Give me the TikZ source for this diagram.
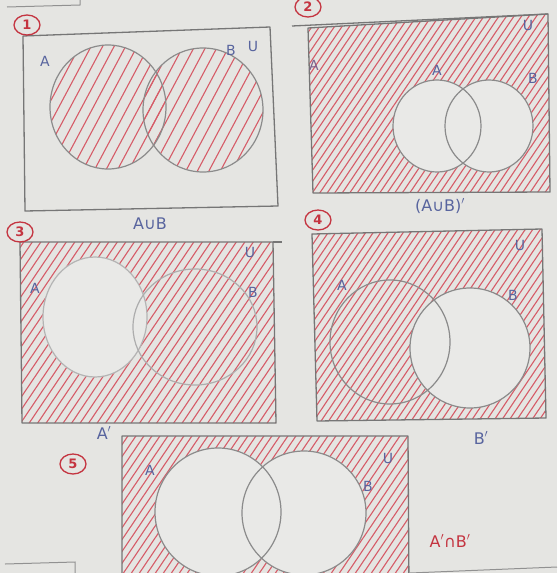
\documentclass[tikz,border=0pt]{standalone}
\usepackage{fontspec}
\setmainfont{DejaVu Sans}
\usetikzlibrary{shapes.geometric}
\definecolor{paper}{RGB}{229,229,226}
\definecolor{paperlight}{RGB}{233,233,231}
\definecolor{hred}{RGB}{214,92,104}
\definecolor{pencil}{RGB}{118,118,118}
\definecolor{ink}{RGB}{88,100,158}
\definecolor{rink}{RGB}{196,52,64}
\newcommand\hatchin[4]{%
  \foreach \k in {0,...,75} \draw[hatchline] ({#1+\k*#3},#2) -- ++(#4:440);}
\tikzset{
  frame/.style={draw=pencil, line width=1.3pt, line join=round},
  venn/.style={draw=pencil!85, line width=1.2pt},
  hatchline/.style={draw=hred, line width=1.1pt},
  lbl/.style={text=ink, font=\fontsize{14}{14}\selectfont, inner sep=0pt},
  captext/.style={text=ink, font=\fontsize{16}{16}\selectfont, inner sep=0pt},
  rcaptext/.style={text=rink, font=\fontsize{16}{16}\selectfont, inner sep=0pt},
  num/.style={ellipse, draw=rink, line width=1.3pt, text=rink, inner sep=0pt,
    minimum width=26pt, minimum height=20pt, font=\bfseries\fontsize{13}{13}\selectfont},
  stray/.style={draw=pencil!80, line width=1pt}
}
\begin{document}
\begin{tikzpicture}[x=1pt,y=-1pt]
\fill[paper] (0,0) rectangle (557,573);
\useasboundingbox (0,0) rectangle (557,573);

% stray fragments of the page
\coordinate (s1) at (7,7); \coordinate (s2) at (80,5); \coordinate (s3) at (80,0);
\draw[stray] (s1) -- (s2) -- (s3);
\coordinate (s4) at (5,564); \coordinate (s5) at (75,562); \coordinate (s6) at (75,573);
\draw[stray] (s4) -- (s5) -- (s6);
\coordinate (s7) at (410,573); \coordinate (s8) at (557,567);
\draw[stray] (s7) -- (s8);

% ---------------- Panel 1 : A u B
\coordinate (p1a) at (23,36); \coordinate (p1b) at (270,27);
\coordinate (p1c) at (278,206); \coordinate (p1d) at (25,211);
\begin{scope}
  \clip (108,107) ellipse [x radius=58, y radius=62];
  \hatchin{-110}{230}{11.5}{-62}
\end{scope}
\begin{scope}
  \clip (203,110) ellipse [x radius=60, y radius=62];
  \hatchin{-110}{230}{11.5}{-62}
\end{scope}
\draw[frame] (p1a) -- (p1b) -- (p1c) -- (p1d) -- cycle;
\draw[venn] (108,107) ellipse [x radius=58, y radius=62];
\draw[venn] (203,110) ellipse [x radius=60, y radius=62];
\node[num] (n1) at (27,25) {1};
\node[lbl] (a1) at (45,61) {A};
\node[lbl] (b1) at (231,50) {B};
\node[lbl] (u1) at (253,46) {U};
\node[captext] (c1) at (150,224) {A∪B};

% ---------------- Panel 2 : (A u B)'
\coordinate (p2a) at (308,28); \coordinate (p2b) at (548,14);
\coordinate (p2c) at (550,192); \coordinate (p2d) at (313,193);
\begin{scope}
  \clip (p2a) -- (p2b) -- (p2c) -- (p2d) -- cycle;
  \hatchin{180}{200}{7.5}{-56}
  \fill[paperlight] (437,126) ellipse [x radius=44, y radius=46];
  \fill[paperlight] (489,126) ellipse [x radius=44, y radius=46];
\end{scope}
\coordinate (p2e) at (292,26);
\draw[frame] (p2e) -- (p2b);
\draw[frame] (p2a) -- (p2b) -- (p2c) -- (p2d) -- cycle;
\draw[venn] (437,126) ellipse [x radius=44, y radius=46];
\draw[venn] (489,126) ellipse [x radius=44, y radius=46];
\node[num] (n2) at (308,7) {2};
\node[lbl, text=ink!70!hred] (a2x) at (314,65) {A};
\node[lbl] (a2) at (437,70) {A};
\node[lbl] (b2) at (533,78) {B};
\node[lbl] (u2) at (528,25) {U};
\node[captext] (c2) at (440,206) {(A∪B)$'$};

% ---------------- Panel 3 : A'
\coordinate (p3a) at (20,242); \coordinate (p3b) at (273,242);
\coordinate (p3c) at (276,423); \coordinate (p3d) at (22,423);
\begin{scope}
  \clip (p3a) -- (p3b) -- (p3c) -- (p3d) -- cycle;
  \hatchin{-120}{430}{8.5}{-56}
  \fill[paperlight] (95,317) ellipse [x radius=52, y radius=60];
\end{scope}
\coordinate (p3e) at (282,242);
\draw[frame] (p3b) -- (p3e);
\draw[frame] (p3a) -- (p3b) -- (p3c) -- (p3d) -- cycle;
\draw[venn, draw=pencil!55] (95,317) ellipse [x radius=52, y radius=60];
\draw[venn, draw=pencil!60] (195,327) ellipse [x radius=62, y radius=58];
\node[num] (n3) at (20,232) {3};
\node[lbl] (a3) at (35,288) {A};
\node[lbl] (u3) at (250,252) {U};
\node[lbl] (b3) at (253,292) {B};
\node[captext] (c3) at (104,433) {A$'$};

% ---------------- Panel 4 : B'
\coordinate (p4a) at (312,234); \coordinate (p4b) at (542,229);
\coordinate (p4c) at (546,418); \coordinate (p4d) at (317,421);
\begin{scope}
  \clip (p4a) -- (p4b) -- (p4c) -- (p4d) -- cycle;
  \hatchin{180}{430}{7.5}{-56}
  \fill[paperlight] (470,348) ellipse [x radius=60, y radius=60];
\end{scope}
\draw[frame] (p4a) -- (p4b) -- (p4c) -- (p4d) -- cycle;
\draw[venn] (390,342) ellipse [x radius=60, y radius=62];
\draw[venn] (470,348) ellipse [x radius=60, y radius=60];
\node[num] (n4) at (318,220) {4};
\node[lbl] (a4) at (342,285) {A};
\node[lbl] (u4) at (520,245) {U};
\node[lbl] (b4) at (513,295) {B};
\node[captext] (c4) at (481,438) {B$'$};

% ---------------- Panel 5 : A' n B'
\coordinate (p5a) at (122,436); \coordinate (p5b) at (408,436);
\coordinate (p5c) at (409,590); \coordinate (p5d) at (122,590);
\begin{scope}
  \clip (p5a) -- (p5b) -- (p5c) -- (p5d) -- cycle;
  \hatchin{0}{590}{8}{-56}
  \fill[paperlight] (218,512) ellipse [x radius=63, y radius=64];
  \fill[paperlight] (304,513) ellipse [x radius=62, y radius=62];
\end{scope}
\draw[frame] (p5a) -- (p5b) -- (p5c) -- (p5d) -- cycle;
\draw[venn] (218,512) ellipse [x radius=63, y radius=64];
\draw[venn] (304,513) ellipse [x radius=62, y radius=62];
\node[num] (n5) at (73,464) {5};
\node[lbl] (a5) at (150,470) {A};
\node[lbl] (b5) at (368,486) {B};
\node[lbl] (u5) at (388,458) {U};
\node[rcaptext] (c5) at (450,541) {A$'$∩B$'$};
\end{tikzpicture}
\end{document}
